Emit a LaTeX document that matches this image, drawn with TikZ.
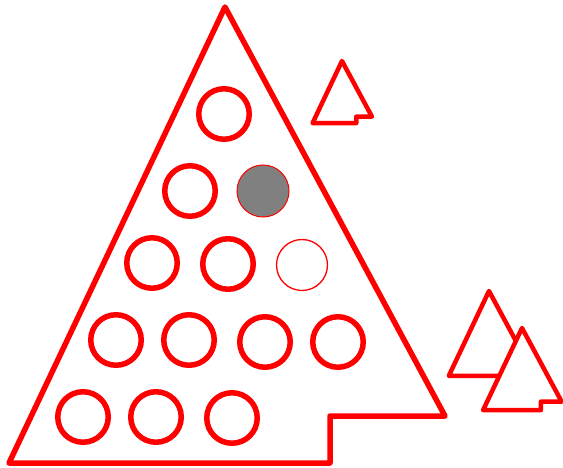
\documentclass[tikz,border=0pt]{standalone}
\usetikzlibrary{positioning}
\definecolor{pegred}{RGB}{255,0,0}
\definecolor{peggray}{RGB}{128,128,128}

\tikzset{
  board/.style={draw=pegred, line join=round, fill=white},
  pics/boardtri/.style={code={
    \draw[board] (0,0) -- (220,409) -- (105,409) -- (105,456) -- (-216,456) -- cycle;
  }}
}

\begin{document}
\begin{tikzpicture}[x=1pt, y=-1pt,
  hole/.style={circle, draw=pegred, line width=5.5pt, inner sep=0pt, minimum size=50.5pt},
  peg/.style={hole, line width=1pt, fill=peggray, minimum size=52pt},
  freehole/.style={hole, line width=1.3pt, minimum size=51pt}
]
  \useasboundingbox (0,0) rectangle (563,468);

  % Main board
  \pic[line width=5.5pt] at (225,7) {boardtri};

  % Holes, row by row
  \node[hole]     (h1)  at (224,114) {};
  \node[hole]     (h2)  at (190,191) {};
  \node[peg]      (h3)  at (263,191) {};
  \node[hole]     (h4)  at (152,263) {};
  \node[hole]     (h5)  at (228,264) {};
  \node[freehole] (h6)  at (302,265) {};
  \node[hole]     (h7)  at (116,340) {};
  \node[hole]     (h8)  at (189,340) {};
  \node[hole]     (h9)  at (265,342) {};
  \node[hole]     (h10) at (338,342) {};
  \node[hole]     (h11) at (83,417) {};
  \node[hole]     (h12) at (156,417) {};
  \node[hole]     (h13) at (232,418) {};

  % Small boards
  \pic[scale=0.136, line width=4.5pt] at (342,61) {boardtri};
  \pic[scale=0.186, line width=4.5pt] at (489,291) {boardtri};
  \pic[scale=0.180, line width=4.5pt] at (522,328) {boardtri};
\end{tikzpicture}
\end{document}
